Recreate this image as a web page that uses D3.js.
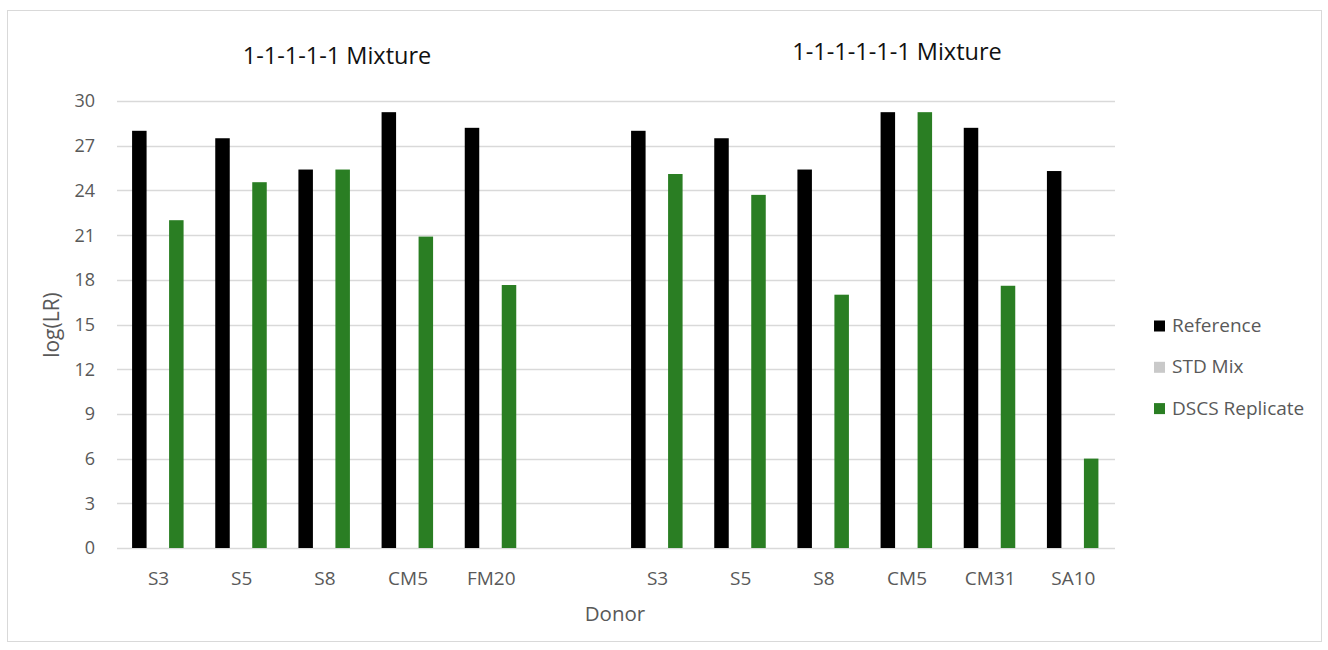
<!DOCTYPE html>
<html><head><meta charset="utf-8">
<script src="https://cdn.jsdelivr.net/npm/d3@7"></script>
<style>body{margin:0;background:#fff;}svg{display:block;font-family:"Open Sans",sans-serif;}</style>
</head><body><svg id="c" width="1328" height="650"></svg>
<script>
const categories = ["g1_S3","g1_S5","g1_S8","g1_CM5","g1_FM20","gap","g2_S3","g2_S5","g2_S8","g2_CM5","g2_CM31","g2_SA10"];
const tickLabels = ["S3","S5","S8","CM5","FM20","","S3","S5","S8","CM5","CM31","SA10"];
const seriesNames = ["Reference","STD Mix","DSCS Replicate"];
const seriesColors = ["#000000","#c9c9c9","#2a7e23"];
const reference = [28.0,27.5,25.4,29.25,28.2,null,28.0,27.5,25.4,29.25,28.2,25.3];
const stdMix    = [0,0,0,0,0,null,0,0,0,0,0,0];
const dscs      = [22.0,24.55,25.4,20.9,17.65,null,25.1,23.7,17.0,29.25,17.6,6.0];
const yTicks = [0,3,6,9,12,15,18,21,24,27,30];
const titles = ["1-1-1-1-1 Mixture","1-1-1-1-1-1 Mixture"];

const svg = d3.select("#c");
svg.append("rect").attr("x",7.5).attr("y",10.5).attr("width",1314).attr("height",631)
  .attr("fill","#fff").attr("stroke","#d9d9d9").attr("stroke-width",1);

const x = d3.scaleBand().domain(categories).range([117,1115]).padding(0);
const y = d3.scaleLinear().domain([0,30]).range([548,101]);

// gridlines
svg.append("g").selectAll("line").data(yTicks).join("line")
  .attr("x1",117).attr("x2",1115).attr("y1",d=>Math.round(y(d))+0.5).attr("y2",d=>Math.round(y(d))+0.5)
  .attr("stroke","#d9d9d9").attr("stroke-width",1.5);

// y tick labels
svg.append("g").selectAll("text").data(yTicks).join("text")
  .attr("x",95).attr("y",d=>y(d)).attr("dy","0.36em").attr("text-anchor","end")
  .attr("fill","#595959").attr("font-size",18).text(d=>d);

// bars
const sub = d3.scaleBand().domain(seriesNames).range([-26.5,25]).paddingInner(0.216);
const seriesData = [reference,stdMix,dscs];
seriesData.forEach((vals,si)=>{
  svg.append("g").selectAll("rect").data(categories.map((c,i)=>({c,v:vals[i]})).filter(d=>d.v!=null && d.v>0)).join("rect")
    .attr("x",d=>x(d.c)+x.bandwidth()/2+sub(seriesNames[si]))
    .attr("width",sub.bandwidth())
    .attr("y",d=>y(d.v)).attr("height",d=>y(0)-y(d.v))
    .attr("fill",seriesColors[si]);
});

// x tick labels
svg.append("g").selectAll("text").data(categories).join("text")
  .attr("x",d=>x(d)+x.bandwidth()/2).attr("y",585).attr("text-anchor","middle")
  .attr("fill","#595959").attr("font-size",19).text((d,i)=>tickLabels[i]);

// axis titles
svg.append("text").attr("x",615).attr("y",621).attr("text-anchor","middle")
  .attr("fill","#595959").attr("font-size",20.5).text("Donor");
svg.append("text").attr("transform","translate(59,325) rotate(-90)").attr("text-anchor","middle")
  .attr("fill","#595959").attr("font-size",21).text("log(LR)");

// chart titles
svg.append("text").attr("x",337).attr("y",63.5).attr("text-anchor","middle")
  .attr("fill","#111").attr("font-size",23.5).text(titles[0]);
svg.append("text").attr("x",897).attr("y",59.5).attr("text-anchor","middle")
  .attr("fill","#111").attr("font-size",23.5).text(titles[1]);

// legend
const leg = svg.append("g");
seriesNames.forEach((n,i)=>{
  const ly = 332 + i*41.3;
  leg.append("rect").attr("x",1154).attr("y",ly-11.5).attr("width",11).attr("height",11).attr("fill",seriesColors[i]);
  leg.append("text").attr("x",1172).attr("y",ly).attr("fill","#595959")
    .attr("font-size",19).text(n);
});
</script></body></html>
